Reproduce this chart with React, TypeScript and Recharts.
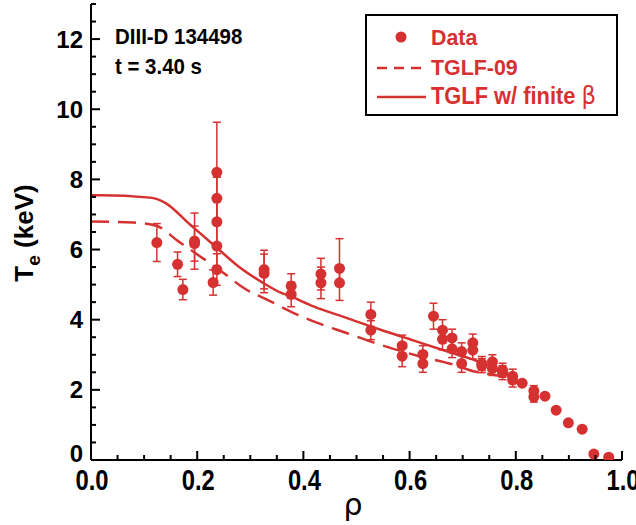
import { ComposedChart, Line, Scatter, ErrorBar, XAxis, YAxis } from 'recharts';

const RED = '#d63131';
const FONT = "'Liberation Sans', Arial, Helvetica, sans-serif";

// measured Te profile (rho, Te in keV, error bar deltas)
const dataRho = [0.124, 0.163, 0.173, 0.195, 0.195, 0.23, 0.237, 0.237, 0.237, 0.237, 0.237, 0.326, 0.326, 0.377, 0.377, 0.433, 0.433, 0.468, 0.468, 0.527, 0.527, 0.586, 0.586, 0.625, 0.625, 0.645, 0.662, 0.662, 0.68, 0.68, 0.698, 0.698, 0.719, 0.719, 0.736, 0.736, 0.756, 0.756, 0.775, 0.775, 0.794, 0.794, 0.812, 0.834, 0.834, 0.855, 0.876, 0.899, 0.925, 0.947, 0.975];
const dataTe = [6.2, 5.58, 4.86, 6.24, 6.17, 5.06, 8.2, 7.46, 6.79, 6.1, 5.43, 5.43, 5.32, 4.96, 4.72, 5.3, 5.05, 5.46, 5.05, 4.15, 3.7, 3.26, 2.96, 3.01, 2.75, 4.1, 3.7, 3.44, 3.48, 3.17, 3.09, 2.75, 3.34, 3.13, 2.75, 2.69, 2.8, 2.61, 2.56, 2.49, 2.39, 2.28, 2.19, 1.97, 1.8, 1.82, 1.42, 1.06, 0.88, 0.17, 0.08];
const errLow = [0.54, 0.35, 0.29, 0.8, 0.5, 0.36, 1.43, 0.6, 0.6, 0.6, 0.45, 0.55, 0.55, 0.35, 0.35, 0.45, 0.45, 0.4, 0.5, 0.35, 0.27, 0.3, 0.3, 0.25, 0.25, 0.37, 0.3, 0.3, 0.25, 0.25, 0.25, 0.25, 0.25, 0.25, 0.2, 0.2, 0.2, 0.2, 0.2, 0.2, 0.2, 0.2, 0, 0.15, 0.15, 0, 0, 0, 0, 0, 0];
const errHigh = [0.54, 0.35, 0.29, 0.8, 0.5, 0.36, 1.43, 0.6, 0.6, 0.6, 0.45, 0.55, 0.55, 0.35, 0.35, 0.45, 0.45, 0.85, 0.5, 0.35, 0.27, 0.3, 0.3, 0.25, 0.25, 0.37, 0.3, 0.3, 0.25, 0.25, 0.25, 0.25, 0.25, 0.25, 0.2, 0.2, 0.2, 0.2, 0.2, 0.2, 0.2, 0.2, 0, 0.15, 0.15, 0, 0, 0, 0, 0, 0];

// TGLF-09 (dashed)
const tglf09Rho = [0, 0.08, 0.124, 0.164, 0.205, 0.249, 0.287, 0.337, 0.375, 0.419, 0.481, 0.544, 0.62, 0.682, 0.72, 0.758, 0.795];
const tglf09Te = [6.8, 6.77, 6.67, 6.24, 5.81, 5.34, 4.91, 4.53, 4.24, 3.95, 3.62, 3.29, 2.95, 2.72, 2.53, 2.43, 2.31];

// TGLF w/ finite beta (solid)
const finiteRho = [0, 0.017, 0.111, 0.139, 0.186, 0.237, 0.281, 0.324, 0.356, 0.375, 0.419, 0.481, 0.544, 0.607, 0.67, 0.72, 0.76, 0.795];
const finiteTe = [7.55, 7.55, 7.48, 7.34, 6.72, 6.05, 5.48, 5.05, 4.78, 4.67, 4.38, 4.05, 3.72, 3.41, 3.1, 2.86, 2.62, 2.33];

const xTicks = [0, 0.05, 0.1, 0.15, 0.2, 0.25, 0.3, 0.35, 0.4, 0.45, 0.5, 0.55, 0.6, 0.65, 0.7, 0.75, 0.8, 0.85, 0.9, 0.95, 1];
const yTicks = [0, 0.5, 1, 1.5, 2, 2.5, 3, 3.5, 4, 4.5, 5, 5.5, 6, 6.5, 7, 7.5, 8, 8.5, 9, 9.5, 10, 10.5, 11, 11.5, 12, 12.5, 13];

const points = dataRho.map((x, i) => ({ x, y: dataTe[i], err: [errLow[i], errHigh[i]] }));
const tglf09 = tglf09Rho.map((x, i) => ({ x, y: tglf09Te[i] }));
const finite = finiteRho.map((x, i) => ({ x, y: finiteTe[i] }));

const isMajorX = (v: number) => Math.round(v * 100) % 20 === 0;
const isMajorY = (v: number) => v % 2 === 0;

// text squeezed horizontally to mimic the narrow font of the original
const Narrow = ({ x, y, sx = 0.82, anchor = 'start', size, fill = '#000', children }: any) => (
  <text transform={`translate(${x},${y}) scale(${sx},1)`} textAnchor={anchor} fontFamily={FONT}
    fontWeight="bold" fontSize={size} fill={fill}>
    {children}
  </text>
);

const BottomTick = ({ x, y, payload }: any) => {
  const major = isMajorX(payload.value);
  return (
    <g>
      <line x1={x} y1={y} x2={x} y2={y - (major ? 9 : 5)} stroke="#000" strokeWidth={2} />
      {major && <Narrow x={x + 1} y={y + 30} anchor="middle" size={29}>{payload.value.toFixed(1)}</Narrow>}
    </g>
  );
};

const TopTick = ({ x, y, payload }: any) => (
  <line x1={x} y1={y} x2={x} y2={y + (isMajorX(payload.value) ? 9 : 5)} stroke="#000" strokeWidth={2} />
);

const LeftTick = ({ x, y, payload }: any) => {
  const major = isMajorY(payload.value);
  // the zero label sits a little higher so it clears the x labels
  const base = payload.value === 0 ? y + 1.5 : y + 8.6;
  return (
    <g>
      <line x1={x} y1={y} x2={x + (major ? 9 : 5)} y2={y} stroke="#000" strokeWidth={2} />
      {major && (
        <text x={x - 8} y={base} textAnchor="end" fontFamily={FONT} fontWeight="bold" fontSize={24} fill="#000">
          {payload.value}
        </text>
      )}
    </g>
  );
};

const RightTick = ({ x, y, payload }: any) => (
  <line x1={x} y1={y} x2={x - (isMajorY(payload.value) ? 9 : 5)} y2={y} stroke="#000" strokeWidth={2} />
);

const Dot = (p: any) => <circle cx={p.cx} cy={p.cy} r={5.5} fill={RED} />;

const axisLine = { stroke: '#000', strokeWidth: 2 };

export default function App() {
  return (
    <div style={{ position: 'fixed', left: 0, top: 0, width: 636, height: 525, background: '#fff' }}>
      <ComposedChart width={636} height={525} margin={{ top: 4, right: 14, bottom: 25, left: 31 }}>
        <XAxis dataKey="x" type="number" domain={[0, 1]} ticks={xTicks} interval={0} height={40}
          tickSize={0} tickMargin={0} tick={<BottomTick />} axisLine={axisLine} allowDataOverflow />
        <XAxis xAxisId="top" orientation="top" type="number" domain={[0, 1]} ticks={xTicks} interval={0} height={0}
          tickSize={0} tickMargin={0} tick={<TopTick />} axisLine={axisLine} allowDataOverflow />
        <YAxis dataKey="y" type="number" domain={[0, 13]} ticks={yTicks} interval={0} width={60}
          tickSize={0} tickMargin={0} tick={<LeftTick />} axisLine={axisLine} allowDataOverflow />
        <YAxis yAxisId="right" orientation="right" type="number" domain={[0, 13]} ticks={yTicks} interval={0} width={0}
          tickSize={0} tickMargin={0} tick={<RightTick />} axisLine={axisLine} allowDataOverflow />
        <Line data={tglf09} dataKey="y" type="monotone" stroke={RED} strokeWidth={2.5} strokeDasharray="18 9"
          dot={false} activeDot={false} isAnimationActive={false} />
        <Line data={finite} dataKey="y" type="monotone" stroke={RED} strokeWidth={2.5}
          dot={false} activeDot={false} isAnimationActive={false} />
        <Scatter data={points} dataKey="y" shape={Dot} fill={RED} isAnimationActive={false}>
          <ErrorBar dataKey="err" direction="y" stroke={RED} strokeWidth={1.5} width={4} isAnimationActive={false} />
        </Scatter>
      </ComposedChart>

      <svg width={636} height={525} style={{ position: 'absolute', left: 0, top: 0, pointerEvents: 'none' }}>
        <Narrow x={115} y={44} sx={0.93} size={22}>DIII-D 134498</Narrow>
        <Narrow x={115} y={74} sx={0.93} size={22}>t = 3.40 s</Narrow>

        <rect x={366} y={15} width={251} height={100} fill="#fff" stroke="#000" strokeWidth={2} />
        <circle cx={401} cy={37} r={5.5} fill={RED} />
        <line x1={377} y1={68} x2={426} y2={68} stroke={RED} strokeWidth={2.5} strokeDasharray="10 7" />
        <line x1={377} y1={97} x2={426} y2={97} stroke={RED} strokeWidth={2.5} />
        <Narrow x={431} y={45} sx={0.93} size={23} fill={RED}>Data</Narrow>
        <Narrow x={431} y={75} sx={0.93} size={23} fill={RED}>TGLF-09</Narrow>
        <text transform="translate(431,104) scale(0.95,1)" fontFamily={FONT} fontWeight="bold" fontSize={23} fill={RED}>
          TGLF w/ finite <tspan fontWeight="normal" fontFamily="'DejaVu Sans', sans-serif" fontSize={24}>β</tspan>
        </text>

        <text x={353} y={515} textAnchor="middle" fontFamily="'DejaVu Sans', sans-serif" fontSize={30} fill="#000">ρ</text>

        <text transform="translate(33, 233) rotate(-90)" textAnchor="middle" fontFamily={FONT} fontWeight="bold" fontSize={26} fill="#000">
          T<tspan fontSize={19} dy={7}>e</tspan><tspan dy={-7}>  (keV)</tspan>
        </text>
      </svg>
    </div>
  );
}
